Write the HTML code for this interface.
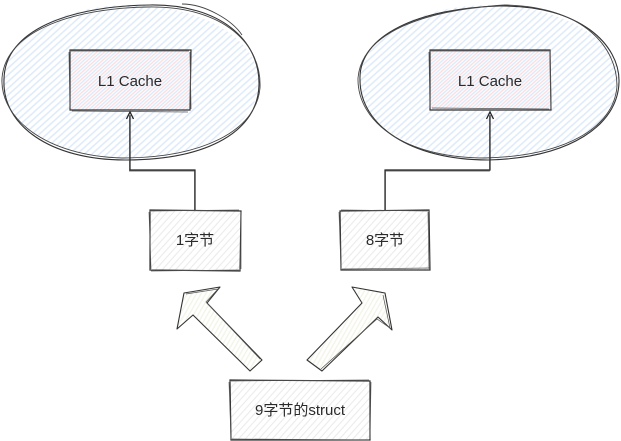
<!DOCTYPE html>
<html><head><meta charset="utf-8"><style>
html,body{margin:0;padding:0;background:#fff;}
svg{display:block;}
text{font-family:"Liberation Sans","Noto Sans CJK SC",sans-serif;font-size:15px;fill:#2a2a2a;}
</style></head><body>
<svg width="621" height="441" viewBox="0 0 621 441" xmlns="http://www.w3.org/2000/svg">
<defs>
<pattern id="blue" patternUnits="userSpaceOnUse" width="5" height="5" patternTransform="rotate(-42)">
<rect width="5" height="5" fill="#fff"/><line x1="0" y1="1" x2="5" y2="1" stroke="#dbe9fa" stroke-width="1.4"/></pattern>
<pattern id="pink" patternUnits="userSpaceOnUse" width="5" height="5" patternTransform="rotate(-42)">
<line x1="0" y1="3.5" x2="5" y2="3.5" stroke="#f9dde0" stroke-width="1.4"/></pattern>
<pattern id="grey" patternUnits="userSpaceOnUse" width="5" height="5" patternTransform="rotate(-48)">
<rect width="5" height="5" fill="#fff"/><line x1="0" y1="1" x2="5" y2="1" stroke="#ebebeb" stroke-width="1.1"/></pattern>
<pattern id="yel" patternUnits="userSpaceOnUse" width="4" height="4" patternTransform="rotate(-60)">
<rect width="4" height="4" fill="#fff"/><line x1="0" y1="1" x2="4" y2="1" stroke="#f3f3e6" stroke-width="1.3"/></pattern>
</defs>

<!-- Left ellipse -->
<ellipse cx="130" cy="82" rx="129" ry="77" fill="url(#blue)"/>
<path d="M4,80 C4,30 70,6 150,5 C220,4 260,40 259,85 C258,130 210,160 125,160 C50,160 2,125 4,80 Z" fill="none" stroke="#333" stroke-width="1.1"/>
<path d="M2,78 C6,28 80,8 148,7 C225,6 262,45 260,88 C256,132 200,158 122,158 C48,156 0,120 2,78 Z" fill="none" stroke="#444" stroke-width="0.9"/>
<path d="M182,4 C205,4 232,20 242,35" fill="none" stroke="#444" stroke-width="0.9"/>

<!-- Right ellipse -->
<ellipse cx="489" cy="82" rx="130" ry="77" fill="url(#blue)"/>
<path d="M360,80 C358,35 420,8 500,6 C580,5 620,45 619,82 C618,125 570,158 488,160 C410,160 360,125 360,80 Z" fill="none" stroke="#333" stroke-width="1.1"/>
<path d="M358,78 C362,32 425,10 505,5 C585,7 617,48 617,86 C614,128 565,156 485,158 C405,158 357,122 358,78 Z" fill="none" stroke="#444" stroke-width="0.9"/>

<!-- L1 rects -->
<rect x="70" y="50" width="120" height="60" fill="url(#pink)"/>
<path d="M70,50 L191,50 L190,110 L70,110 Z" fill="none" stroke="#333" stroke-width="1.2"/>
<path d="M71,51 L189,51 M190,52 L191,109 M72,111 L188,112 M69,52 L70,108" fill="none" stroke="#555" stroke-width="0.8"/>
<text x="130" y="86" text-anchor="middle">L1 Cache</text>

<rect x="430" y="50" width="121" height="60" fill="url(#pink)"/>
<path d="M430,50 L550,50 L551,110 L430,110 Z" fill="none" stroke="#333" stroke-width="1.2"/>
<path d="M431,51 L549,51 M550,52 L551,109 M432,108 L549,109 M429,52 L430,108" fill="none" stroke="#555" stroke-width="0.8"/>
<text x="490" y="86" text-anchor="middle">L1 Cache</text>

<!-- connectors -->
<path d="M195,210 L195,170 L130,170 L130,115" fill="none" stroke="#222" stroke-width="1.2"/>
<path d="M194.5,210 L194.5,171 L129.5,171 L129.5,116" fill="none" stroke="#444" stroke-width="0.7"/>
<path d="M126.5,119 L130,112 L133.5,119" fill="none" stroke="#222" stroke-width="1.3"/>
<path d="M385,210 L385,170 L490,170 L490,115" fill="none" stroke="#222" stroke-width="1.2"/>
<path d="M385.5,210 L385.5,171 L489.5,171 L489.5,116" fill="none" stroke="#444" stroke-width="0.7"/>
<path d="M486.5,119 L490,112 L493.5,119" fill="none" stroke="#222" stroke-width="1.3"/>

<!-- byte boxes -->
<rect x="150" y="210" width="90" height="60" fill="url(#grey)"/>
<path d="M150,210 L241,211 L240,271 L150,270 Z" fill="none" stroke="#333" stroke-width="1.2"/>
<path d="M151,211 L239,210 M241,212 L241,269 M151,271 L239,270 M149,212 L151,269" fill="none" stroke="#555" stroke-width="0.7"/>
<text x="195" y="245" text-anchor="middle">1字节</text>

<rect x="340" y="210" width="89" height="60" fill="url(#grey)"/>
<path d="M340,211 L429,210 L430,270 L341,270 Z" fill="none" stroke="#333" stroke-width="1.2"/>
<path d="M341,210 L428,211 M428,212 L429,269 M342,269 L430,268 M339,212 L341,269" fill="none" stroke="#555" stroke-width="0.7"/>
<text x="385" y="245" text-anchor="middle">8字节</text>

<rect x="230" y="380" width="140" height="60" fill="url(#grey)"/>
<path d="M230,380 L370,381 L370,440 L231,440 Z" fill="none" stroke="#333" stroke-width="1.2"/>
<path d="M231,381 L369,380 M371,382 L370,439 M232,439 L369,440 M229,382 L231,439" fill="none" stroke="#555" stroke-width="0.7"/>
<text x="300" y="415" text-anchor="middle">9字节的struct</text>

<!-- block arrows -->
<polygon points="184,293 220,287 207,303 262,360 250,371 193,315 177,329" fill="url(#yel)" stroke="#333" stroke-width="1.1" stroke-linejoin="round"/>
<polyline points="186,294 218,289 206,302 260,359" fill="none" stroke="#555" stroke-width="0.7"/>
<polygon points="385,293 392,330 378,317 322,371 307,360 362,303 352,287" fill="url(#yel)" stroke="#333" stroke-width="1.1" stroke-linejoin="round"/>
<polyline points="383,295 390,328 377,319 321,369" fill="none" stroke="#555" stroke-width="0.7"/>
</svg>
</body></html>
